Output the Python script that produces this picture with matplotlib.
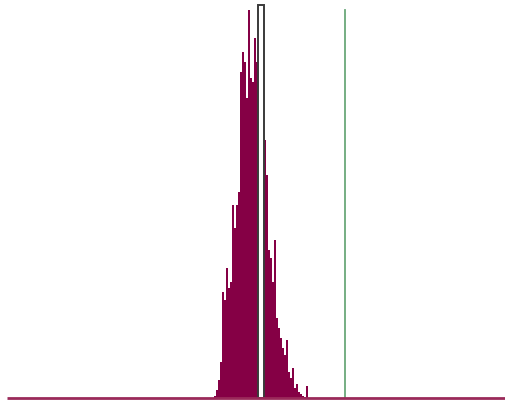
import matplotlib
matplotlib.use("Agg")
import matplotlib.pyplot as plt
from matplotlib.patches import Rectangle

# Histogram bins (left edge, in axis units) and bar heights (counts)
bin_left = [214, 216, 218, 220, 222, 224, 226, 228, 230, 232, 234, 236, 238,
            240, 242, 244, 246, 248, 250, 252, 254, 256, 258, 260, 262,
            264, 266, 268, 270, 272, 274, 276, 278, 280, 282, 284, 286,
            288, 290, 292, 294, 296, 298, 300, 302, 304, 306]
counts = [2, 8, 18, 36, 106, 98, 130, 110, 116, 193, 170, 193, 206,
          326, 346, 336, 300, 388, 320, 316, 360, 336, 378, 383, 378,
          258, 223, 148, 140, 116, 158, 80, 70, 60, 50, 43, 58,
          26, 20, 30, 10, 14, 6, 4, 2, 1, 12]
bin_width = 2

observed_value = 261      # white marker bar
observed_height = 393
reference_value = 345     # green line
reference_height = 388
axis_start = 7

fig = plt.figure(figsize=(5.05, 4.04), dpi=100)
ax = fig.add_axes([0, 0, 1, 1])
ax.set_xlim(0, 505)
ax.set_ylim(-6, 398)
ax.axis("off")

ax.bar(bin_left, counts, width=bin_width, align="edge",
       color="#850045", edgecolor="none", linewidth=0)

ax.add_patch(Rectangle((observed_value - 3, 0), 6, observed_height,
                       facecolor="white", edgecolor="#3a3a3a", linewidth=1.4,
                       zorder=3))

ax.plot([reference_value, reference_value], [0, reference_height],
        color="#6aa87a", linewidth=1.3, zorder=2)

ax.plot([axis_start, 505], [0, 0], color="#9a2a5a", linewidth=2.0,
        solid_capstyle="butt", zorder=4)

fig.savefig("out.png", dpi=100)
